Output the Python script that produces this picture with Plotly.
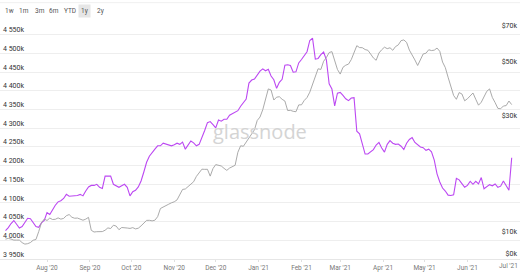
import plotly.graph_objects as go
import pandas as pd

# sampled every 2 days from 2020-07-02, last point 2021-07-03
dates = list(pd.date_range("2020-07-02", periods=183, freq="2D")) + [pd.Timestamp("2021-07-03")]

# purple series (left axis, thousands)
addresses_k = [
    4026, 4034, 4045, 4053, 4043, 4033, 4037, 4047, 4059, 4058,
    4046, 4037, 4035, 4047, 4053, 4074, 4069, 4082, 4094, 4103,
    4106, 4112, 4123, 4118, 4118, 4120, 4120, 4123, 4119, 4132,
    4143, 4147, 4147, 4150, 4142, 4139, 4172, 4172, 4172, 4150,
    4146, 4142, 4146, 4150, 4142, 4119, 4130, 4134, 4143, 4159,
    4183, 4209, 4225, 4236, 4244, 4253, 4253, 4260, 4258, 4254,
    4253, 4256, 4260, 4257, 4263, 4244, 4256, 4266, 4261, 4253,
    4257, 4274, 4294, 4315, 4318, 4310, 4301, 4322, 4319, 4324,
    4324, 4335, 4339, 4343, 4347, 4359, 4369, 4378, 4421, 4429,
    4432, 4444, 4453, 4459, 4454, 4458, 4440, 4430, 4407, 4423,
    4431, 4469, 4470, 4468, 4450, 4451, 4475, 4484, 4493, 4505,
    4535, 4541, 4485, 4487, 4497, 4504, 4483, 4419, 4405, 4360,
    4394, 4396, 4388, 4379, 4374, 4381, 4382, 4292, 4285, 4254,
    4231, 4231, 4236, 4243, 4255, 4262, 4247, 4236, 4257, 4267,
    4260, 4257, 4258, 4252, 4243, 4260, 4270, 4275, 4262, 4256,
    4250, 4248, 4241, 4244, 4237, 4215, 4178, 4156, 4140, 4132,
    4121, 4120, 4122, 4166, 4162, 4152, 4142, 4147, 4158, 4150,
    4158, 4151, 4168, 4138, 4143, 4149, 4146, 4151, 4142, 4145,
    4159, 4147, 4134, 4221,
]

# gray series (right axis, price in $k)
price_k = [
    9.73, 9.80, 9.73, 9.64, 9.64, 9.64, 9.41, 9.28, 9.32, 9.42,
    9.63, 9.70, 10.45, 11.38, 11.77, 11.61, 11.88, 11.72, 11.74, 11.90,
    11.76, 11.84, 12.15, 12.28, 11.97, 11.86, 11.88, 11.74, 11.64, 11.76,
    11.96, 10.58, 10.41, 10.44, 10.45, 10.45, 10.59, 10.82, 10.76, 11.10,
    11.01, 10.64, 10.86, 10.86, 10.81, 10.77, 10.85, 10.72, 10.79, 11.03,
    11.31, 11.62, 11.63, 11.57, 11.64, 12.04, 13.01, 13.16, 13.34, 13.55,
    13.73, 13.86, 14.11, 14.89, 15.58, 15.65, 16.01, 16.28, 16.76, 17.63,
    18.27, 18.88, 18.85, 18.86, 17.68, 18.99, 19.72, 19.57, 19.46, 19.03,
    18.67, 19.08, 19.30, 19.59, 22.16, 23.57, 23.46, 24.39, 25.42, 26.61,
    27.43, 29.96, 30.94, 33.19, 36.29, 40.40, 39.99, 36.36, 37.36, 37.51,
    36.61, 36.02, 32.91, 32.98, 32.67, 32.54, 34.72, 34.75, 36.22, 37.22,
    39.17, 42.03, 45.52, 48.90, 48.58, 52.51, 54.37, 57.03, 57.52, 52.81,
    48.58, 46.50, 49.59, 50.58, 51.10, 53.35, 56.55, 60.85, 59.77, 59.71,
    58.66, 58.27, 56.23, 54.17, 53.01, 56.77, 58.54, 60.00, 59.16, 59.66,
    58.27, 60.34, 61.31, 63.83, 64.27, 62.78, 58.38, 55.98, 53.16, 50.44,
    53.61, 56.28, 56.66, 58.54, 58.11, 58.33, 59.50, 57.68, 52.12, 49.45,
    45.13, 41.40, 37.97, 36.61, 39.02, 38.51, 36.09, 36.81, 37.78, 38.87,
    36.64, 34.62, 35.61, 37.47, 39.50, 40.40, 37.26, 35.48, 33.60, 33.47,
    34.36, 34.49, 36.02, 34.82,
]

left_ticks = [3950 + 50 * i for i in range(13)]
left_text = [f"{v // 1000} {v % 1000:03d}k" for v in left_ticks]
right_ticks = [8.07, 10, 30, 50, 70]
right_text = ["$0k", "$10k", "$30k", "$50k", "$70k"]
month_ticks = list(pd.date_range("2020-08-01", "2021-06-01", freq="MS"))
last_month = pd.Timestamp("2021-07-01")
buttons = ["1w", "1m", "3m", "6m", "YTD", "1y", "2y"]
button_x = [9.5, 24, 39.5, 54, 69.5, 84.5, 100]

fig = go.Figure()
fig.add_trace(go.Scatter(x=dates, y=price_k, yaxis="y2", mode="lines",
                         line=dict(color="#a0a0a0", width=0.9), hoverinfo="skip"))
fig.add_trace(go.Scatter(x=dates, y=addresses_k, yaxis="y", mode="lines",
                         line=dict(color="#bc48f2", width=1.1), hoverinfo="skip"))

fig.update_layout(
    width=520, height=272,
    margin=dict(l=0, r=0, t=22, b=11),
    paper_bgcolor="white", plot_bgcolor="white",
    showlegend=False,
    font=dict(family="Roboto", size=7, color="#444"),
    xaxis=dict(type="date", range=["2020-06-28", "2021-07-09"],
               tickvals=month_ticks, tickformat="%b '%y",
               tickfont=dict(size=6.5, color="#777"),
               ticks="outside", ticklen=2, tickcolor="#e0e0e0",
               showgrid=False, showline=True, linecolor="#e6e6e6",
               zeroline=False, fixedrange=True),
    yaxis=dict(range=[3950, 4584.5], tickvals=left_ticks, ticktext=left_text,
               ticklabelposition="inside top", side="left",
               tickfont=dict(size=7, color="#333"),
               showgrid=True, gridcolor="#eeeeee", gridwidth=1,
               zeroline=False, showline=False, fixedrange=True),
    yaxis2=dict(type="log", range=[0.9063, 1.8818], overlaying="y", side="right",
                tickvals=right_ticks, ticktext=right_text,
                ticklabelposition="inside top",
                tickfont=dict(size=7, color="#333"),
                showgrid=False, zeroline=False, showline=False, fixedrange=True),
)

# last month label (plotly hides it at the edge)
fig.add_annotation(
    x=last_month, y=-0.028, xref="x", yref="paper",
    text=last_month.strftime("%b '%y"), showarrow=False,
    xanchor="center", yanchor="middle",
    font=dict(size=6.5, color="#777"),
)

for label, bx in zip(buttons, button_x):
    fig.add_annotation(
        x=bx / 520, y=1.046, xref="paper", yref="paper",
        text=label, showarrow=False, xanchor="center", yanchor="middle",
        font=dict(size=6.5, color="#555"),
        bgcolor="#e6e6e6" if label == "1y" else None,
        borderpad=2 if label == "1y" else 0,
    )

fig.add_annotation(
    x=0.5, y=0.536, xref="paper", yref="paper", text="glassnode",
    showarrow=False, font=dict(size=20, color="#d4d4d4", family="Open Sans"),
    xanchor="center", yanchor="middle",
)

fig.add_shape(type="line", xref="paper", yref="paper", x0=0, x1=1,
              y0=(261 - 2.5) / 239, y1=(261 - 2.5) / 239,
              line=dict(color="#f0f0f0", width=1))

fig.write_html("out.html")
